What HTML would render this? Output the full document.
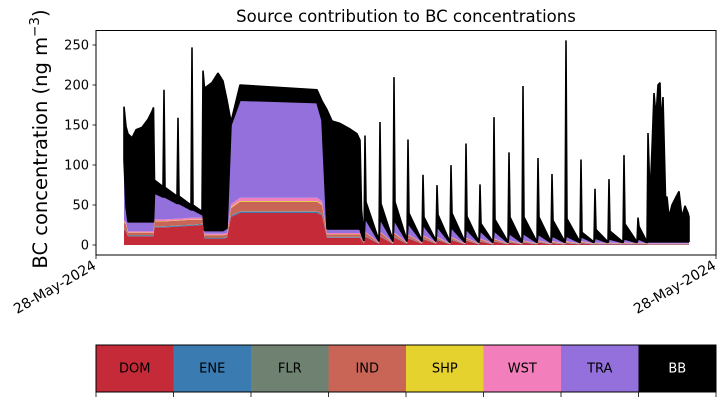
<!DOCTYPE html>
<html><head><meta charset="utf-8"><style>
html,body{margin:0;padding:0;background:#fff;}
svg{display:block;font-family:"DejaVu Sans","Liberation Sans",sans-serif;}
</style></head><body>
<svg id="chart" width="726" height="402" viewBox="0 0 726 402" xmlns="http://www.w3.org/2000/svg">
<text x="406" y="22" font-size="16.5" text-anchor="middle">Source contribution to BC concentrations</text>
<text transform="translate(47,139) rotate(-90)" font-size="19.5" text-anchor="middle">BC concentration (ng m<tspan font-size="13.5" dy="-8">−3</tspan><tspan dy="8">)</tspan></text>
<g id="layers"></g>
<g id="yaxis"></g>
<g id="xaxis"></g>
<rect x="96" y="30.5" width="620" height="224.5" fill="none" stroke="#000" stroke-width="1"/>
<g id="cbar"></g>
</svg>
<script>
const times=[124,126,128,132,136,142,148,152,153.5,154.5,163,164,165,177,178,179,191,192,193,202,203,204.5,212,218,223,227,231,240,317,322,327,332,340,350,357,360,361.5,364,
365,366,
379,380,381,393,394,395,407,408,409,422,423,424,436,437,438,
450,451,452,465,466,467,479,480,481,493,494,495,508,509,510,522,523,524,537,538,539,551,552,553,565,566,567,580,581,582,594,595,596,608,609,610,623,624,625,637,638,639,647,
648,650,652,654,656,658,660,661,663,664.5,665.5,667,669,672,676,679,681,682,685,688,689];
const dom=[19,17,11,11,11,11,11,11,11,22,22,22,22,23,23,23,24,24,24,25,25,8,8,8,8,9,35,40,40,37,9,9,9,9,9,9,6,2,
10,10,
1.5,10,10,1.5,9,9,1.5,8,8,1.5,7,7,1.5,6,6,
0.8,6,6,0.8,5,5,0.8,4,4,0.8,4,4,0.8,3,3,0.8,3,3,0.8,3,3,0.8,2,2,0.8,2,2,0.8,2,2,0.8,1,1,0.8,1,1,0.8,1,1,0.8,1,1,0.8,
0.5,0.5,0.5,0.5,0.5,0.5,0.5,0.5,0.5,0.5,0.5,0.5,0.5,0.5,0.5,0.5,0.5,0.5,0.5,0.5,0.5];
const ene=[1,1,0.8,0.8,0.8,0.8,0.8,0.8,0.8,1,1,1,1,1,1,1,1,1,1,1,1,0.8,0.8,0.8,0.8,0.8,1.5,1.5,1.5,1.5,0.8,0.8,0.8,0.8,0.8,0.8,0.6,0.4,
0.5,0.5,
0.4,0.5,0.5,0.4,0.5,0.5,0.4,0.5,0.5,0.4,0.5,0.5,0.4,0.5,0.5,
0.3,0.5,0.5,0.3,0.5,0.5,0.3,0.5,0.5,0.3,0.5,0.5,0.3,0.5,0.5,0.3,0.5,0.5,0.3,0.5,0.5,0.3,0.5,0.5,0.3,0.5,0.5,0.3,0.5,0.5,0.3,0.5,0.5,0.3,0.5,0.5,0.3,0.5,0.5,0.3,0.5,0.5,0.3,
0.3,0.3,0.3,0.3,0.3,0.3,0.3,0.3,0.3,0.3,0.3,0.3,0.3,0.3,0.3,0.3,0.3,0.3,0.3,0.3,0.3];
const flr=[0.5,0.5,0.5,0.5,0.5,0.5,0.5,0.5,0.5,0.5,0.5,0.5,0.5,0.5,0.5,0.5,0.5,0.5,0.5,0.5,0.5,0.5,0.5,0.5,0.5,0.5,0.5,0.5,0.5,0.5,0.5,0.5,0.5,0.5,0.5,0.5,0.4,0.3,
0.3,0.3,
0.3,0.3,0.3,0.3,0.3,0.3,0.3,0.3,0.3,0.3,0.3,0.3,0.3,0.3,0.3,
0.2,0.3,0.3,0.2,0.3,0.3,0.2,0.3,0.3,0.2,0.3,0.3,0.2,0.3,0.3,0.2,0.3,0.3,0.2,0.3,0.3,0.2,0.3,0.3,0.2,0.3,0.3,0.2,0.3,0.3,0.2,0.3,0.3,0.2,0.3,0.3,0.2,0.3,0.3,0.2,0.3,0.3,0.2,
0.2,0.2,0.2,0.2,0.2,0.2,0.2,0.2,0.2,0.2,0.2,0.2,0.2,0.2,0.2,0.2,0.2,0.2,0.2,0.2,0.2];
const ind=[8,7,3,3,3,3,3,3,3,6,6,6,6,6,6,6,6,6,6,5,5,3,3,3,3,3,9,12,12,11,3,3,3,3,3,3,2,0.6,
4,4,
0.5,4,4,0.5,4,4,0.5,3,3,0.5,3,3,0.5,2,2,
0.3,2,2,0.3,2,2,0.3,2,2,0.3,2,2,0.3,1,1,0.3,1,1,0.3,1,1,0.3,1,1,0.3,1,1,0.3,1,1,0.3,0.5,0.5,0.3,0.5,0.5,0.3,0.5,0.5,0.3,0.5,0.5,0.3,
0.3,0.3,0.3,0.3,0.3,0.3,0.3,0.3,0.3,0.3,0.3,0.3,0.3,0.3,0.3,0.3,0.3,0.3,0.3,0.3,0.3];
const shp=[0.5,0.5,0.3,0.3,0.3,0.3,0.3,0.3,0.3,0.5,0.5,0.5,0.5,0.5,0.5,0.5,0.5,0.5,0.5,0.5,0.5,0.3,0.3,0.3,0.3,0.3,1,1,1,1,0.3,0.3,0.3,0.3,0.3,0.3,0.2,0.1,
0.2,0.2,
0.1,0.2,0.2,0.1,0.2,0.2,0.1,0.2,0.2,0.1,0.2,0.2,0.1,0.2,0.2,
0.1,0.2,0.2,0.1,0.2,0.2,0.1,0.2,0.2,0.1,0.2,0.2,0.1,0.2,0.2,0.1,0.2,0.2,0.1,0.2,0.2,0.1,0.2,0.2,0.1,0.2,0.2,0.1,0.2,0.2,0.1,0.2,0.2,0.1,0.2,0.2,0.1,0.2,0.2,0.1,0.2,0.2,0.1,
0.1,0.1,0.1,0.1,0.1,0.1,0.1,0.1,0.1,0.1,0.1,0.1,0.1,0.1,0.1,0.1,0.1,0.1,0.1,0.1,0.1];
const wst=[2,2,1.4,1.4,1.4,1.4,1.4,1.4,1.4,2,2,2,2,2,2,2,2,2,2,2,2,1.4,1.4,1.4,1.4,1.4,4,4,4,4,1.4,1.4,1.4,1.4,1.4,1.4,1,0.6,
0.8,0.8,
0.6,0.8,0.8,0.6,0.8,0.8,0.6,0.8,0.8,0.6,0.8,0.8,0.6,0.8,0.8,
0.5,0.8,0.8,0.5,0.8,0.8,0.5,0.8,0.8,0.5,0.8,0.8,0.5,0.8,0.8,0.5,0.8,0.8,0.5,0.8,0.8,0.5,0.8,0.8,0.5,0.8,0.8,0.5,0.8,0.8,0.5,0.8,0.8,0.5,0.8,0.8,0.5,0.8,0.8,0.5,0.8,0.8,0.5,
0.6,0.6,0.6,0.6,0.6,0.6,0.6,0.6,0.6,0.6,0.6,0.6,0.6,0.6,0.6,0.6,0.6,0.6,0.6,0.6,0.6];
const tra=[75,20,12,12,12,12,12,12,12,33,28,28,28,19,19,19,10,10,10,4,4,4,4,4,4,6,99,122,119,101,5,5,5,5,5,5,3,1,
16,16,
1,15,15,1,15,15,1,13,13,1,12,12,1,12,12,
0.8,11,11,0.8,10,10,0.8,9,9,0.8,9,9,0.8,8,8,0.8,8,8,0.8,7,7,0.8,6,6,0.8,6,6,0.8,5,5,0.8,5,5,0.8,4,4,0.8,4,4,0.8,4,4,0.8,
2,2,2,2,2,2,2,2,2,2,2,2,2,2,2,2,2,2,2,2,2];
const bb=[67,100,110,105,115,118,128,138,143,16,13,134,12,9,107,9,6,203,6,4,180,178,185,197,187,160,4,19,16,24,149,135,132,125,119,111,32,1,
105,22,
1,123,21,1,180,24,1,106,14,1,64,11,1,53,16,
0.8,79,19,0.8,108,17,0.8,59,10,0.8,143,15,0.8,102,21,0.8,185,21,0.8,96,22,0.8,78,20,0.8,245,22,0.8,97,6,0.8,62,11,0.8,75,10,0.8,105,19,0.8,27,16,0.8,
136,56,116,186,156,196,199,146,181,106,56,56,31,46,56,63,41,31,45,36,31];
const sourceNames=["DOM","ENE","FLR","IND","SHP","WST","TRA","BB"];
const sourceColors=["#c52a38","#3a7bb1","#6f8272","#c86557","#e6d22e","#f27fbb","#9370db","#000000"];
const yTicks=[0,50,100,150,200,250];
const xTickLabels=["28-May-2024","28-May-2024"];
const xTickTimes=[96,716];

const NS="http://www.w3.org/2000/svg";
const xDomain=[96,716], xRange=[96,716];
const yDomain=[0,250], yRange=[245,45];
function xs(t){return xRange[0]+(t-xDomain[0])/(xDomain[1]-xDomain[0])*(xRange[1]-xRange[0]);}
function ys(v){return yRange[0]+(v-yDomain[0])/(yDomain[1]-yDomain[0])*(yRange[1]-yRange[0]);}
function mk(tag,attrs,parent){const e=document.createElementNS(NS,tag);for(const k in attrs)e.setAttribute(k,attrs[k]);parent.appendChild(e);return e;}

const series=[dom,ene,flr,ind,shp,wst,tra,bb];
const layers=document.getElementById('layers');
let lower=times.map(()=>0);
series.forEach((s,si)=>{
  const upper=lower.map((b,i)=>b+s[i]);
  let d="";
  times.forEach((t,i)=>{d+=(i?"L":"M")+xs(t).toFixed(2)+","+ys(upper[i]).toFixed(2);});
  for(let i=times.length-1;i>=0;i--)d+="L"+xs(times[i]).toFixed(2)+","+ys(lower[i]).toFixed(2);
  d+="Z";
  const p=mk('path',{d:d,fill:sourceColors[si],stroke:si===7?"#000":"none","stroke-width":si===7?1.6:0,"stroke-linejoin":"bevel"},layers);
  
  
  lower=upper;
});

const ya=document.getElementById('yaxis');
yTicks.forEach(v=>{
  const y=ys(v);
  const l=mk('line',{x1:92.5,x2:96,y1:y,y2:y,stroke:"#000","stroke-width":0.8},ya);
  
  
  const t=mk('text',{x:89,y:y+4.6,"font-size":"13","text-anchor":"end"},ya);
  t.textContent=v;
  
  
});

const xa=document.getElementById('xaxis');
xTickTimes.forEach((tt,i)=>{
  const x=xs(tt);
  const l=mk('line',{x1:x,x2:x,y1:255,y2:259,stroke:"#000","stroke-width":0.8},xa);
  
  
  const t=mk('text',{transform:"translate("+(x+1)+",268) rotate(-30)","font-size":"14","text-anchor":"end"},xa);
  t.textContent=xTickLabels[i];
  
  
});

const cb=document.getElementById('cbar');
const cw=620/sourceNames.length;
sourceNames.forEach((n,i)=>{
  const x=96+i*cw;
  const r=mk('rect',{x:x,y:345,width:cw+0.5,height:47,fill:sourceColors[i]},cb);
  
  
  const t=mk('text',{x:x+cw/2,y:372.5,"font-size":"13","text-anchor":"middle",fill:n==="BB"?"#fff":"#000"},cb);
  t.textContent=n;
  
  
});
for(let i=0;i<=sourceNames.length;i++){
  const x=96+i*cw;
  const l=mk('line',{x1:x,x2:x,y1:392,y2:397,stroke:"#000","stroke-width":0.8},cb);
  
  
}
const fr=mk('rect',{x:96,y:345,width:620,height:47,fill:"none",stroke:"#000","stroke-width":1},cb);


</script>
</body></html>
